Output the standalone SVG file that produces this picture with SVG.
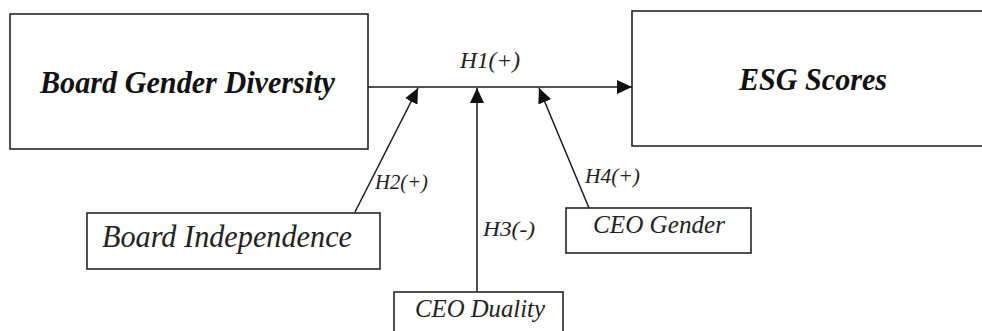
<svg xmlns="http://www.w3.org/2000/svg" width="982" height="331" viewBox="0 0 982 331">
<style>
.box{fill:#fff;stroke:#262626;stroke-width:1.6}
.main{font-family:"Liberation Serif","Times New Roman",serif;font-style:italic;font-weight:bold;fill:#111}
.lbl{font-family:"Liberation Serif","Times New Roman",serif;font-style:italic;fill:#222}
.conn{stroke:#1a1a1a;stroke-width:1.5;fill:none}
</style>
<defs>
<marker id="ah" markerUnits="userSpaceOnUse" markerWidth="15" markerHeight="14" refX="15" refY="7" orient="auto">
<path d="M0,0 L15,7 L0,14 z" fill="#111"/>
</marker>
</defs>
<rect width="982" height="331" fill="#fff"/>
<g id="node-bgd">
<rect class="box" x="10" y="14" width="358" height="135"/>
<text class="main" x="40" y="93" font-size="31" textLength="295" lengthAdjust="spacingAndGlyphs">Board Gender Diversity</text>
</g>
<g id="node-esg">
<rect class="box" x="632" y="11" width="360" height="135"/>
<text class="main" x="739" y="90" font-size="31" textLength="148" lengthAdjust="spacingAndGlyphs">ESG Scores</text>
</g>
<g id="node-bi">
<rect class="box" x="87" y="213" width="293" height="56"/>
<text class="lbl" x="102" y="247" font-size="31" textLength="250" lengthAdjust="spacingAndGlyphs">Board Independence</text>
</g>
<g id="node-ceog">
<rect class="box" x="566" y="208" width="185" height="45"/>
<text class="lbl" x="593" y="233" font-size="25" textLength="132" lengthAdjust="spacingAndGlyphs">CEO Gender</text>
</g>
<g id="node-ceod">
<rect class="box" x="394" y="292" width="169" height="50"/>
<text class="lbl" x="415" y="317" font-size="25" textLength="130" lengthAdjust="spacingAndGlyphs">CEO Duality</text>
</g>
<g id="connectors">
<line class="conn" x1="368" y1="87" x2="632" y2="87" marker-end="url(#ah)"/>
<line class="conn" x1="355" y1="212" x2="418" y2="88" marker-end="url(#ah)"/>
<line class="conn" x1="477" y1="292" x2="477" y2="88" marker-end="url(#ah)"/>
<line class="conn" x1="589" y1="208" x2="539" y2="88" marker-end="url(#ah)"/>
<text class="lbl" x="460" y="68" font-size="23" textLength="60" lengthAdjust="spacingAndGlyphs">H1(+)</text>
<text class="lbl" x="375" y="189" font-size="22" textLength="53" lengthAdjust="spacingAndGlyphs">H2(+)</text>
<text class="lbl" x="483" y="236" font-size="22" textLength="52" lengthAdjust="spacingAndGlyphs">H3(-)</text>
<text class="lbl" x="585" y="183" font-size="22" textLength="55" lengthAdjust="spacingAndGlyphs">H4(+)</text>
</g>
</svg>
